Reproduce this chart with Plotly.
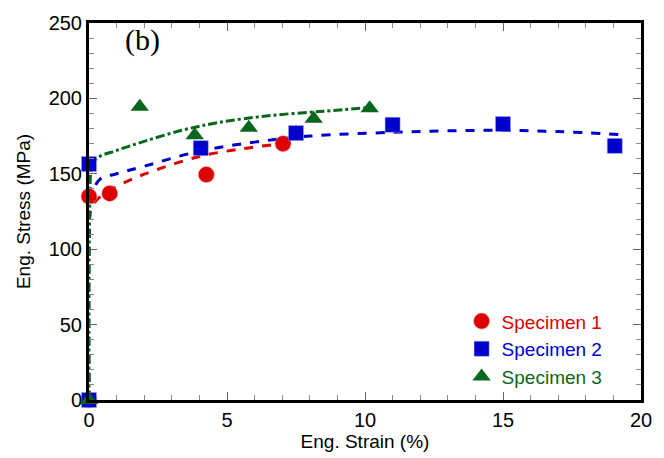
import plotly.graph_objects as go

# Data points
s1_x = [0, 0, 0.75, 4.25, 7.03]
s1_y = [0, 135, 137, 149.5, 170]
s2_x = [0, 0, 4.05, 7.5, 11.0, 15.0, 19.05]
s2_y = [0, 156.5, 167, 177, 182.5, 183, 168.5]
s3_x = [0, 1.84, 3.83, 5.79, 8.14, 10.17]
s3_y = [0, 194.5, 175.5, 180.5, 186.5, 193.5]

# Fit curves
f1_x = [0, 0.03, 0.1, 0.3, 0.75, 1.5, 2.5, 4.0, 5.5, 7.0]
f1_y = [0, 122, 128, 133, 139, 146, 153, 161.5, 166.5, 170]
f2_x = [0, 0.03, 0.1, 0.4, 1.0, 2.0, 4.0, 6.0, 8.0, 11.0, 13.0, 15.0, 17.0, 19.3]
f2_y = [0, 125, 136, 146.5, 150, 155, 165, 171, 175, 177.5, 178.5, 178.8, 178, 176]
f3_x = [0, 0.03, 0.1, 0.3, 1.0, 2.0, 3.4, 4.7, 6.5, 8.5, 10.1]
f3_y = [0, 130, 154, 160.5, 165.5, 171.5, 179, 184, 188.5, 191.5, 193.8]

RED = "#dd0000"
BLUE = "#0000cc"
GREEN = "#0a661c"
FONT = "Arial, Liberation Sans, sans-serif"

fig = go.Figure()
fig.add_trace(go.Scatter(x=f1_x, y=f1_y, mode="lines", line=dict(color=RED, width=3, dash="dash", shape="spline"),
                         showlegend=False, hoverinfo="skip"))
fig.add_trace(go.Scatter(x=f2_x, y=f2_y, mode="lines", line=dict(color=BLUE, width=3, dash="dash", shape="spline"),
                         showlegend=False, hoverinfo="skip"))
fig.add_trace(go.Scatter(x=f3_x, y=f3_y, mode="lines", line=dict(color=GREEN, width=3, dash="dashdot", shape="spline"),
                         showlegend=False, hoverinfo="skip"))

fig.add_trace(go.Scatter(x=s1_x, y=s1_y, mode="markers", cliponaxis=False,
                         marker=dict(symbol="circle", size=16, color=RED, line=dict(width=0.5, color="#f0a0a0")),
                         name=f"<span style='color:{RED}'>Specimen 1</span>"))
fig.add_trace(go.Scatter(x=s2_x, y=s2_y, mode="markers", cliponaxis=False,
                         marker=dict(symbol="square", size=15, color=BLUE, line=dict(width=0.5, color="#a0a0f0")),
                         name=f"<span style='color:{BLUE}'>Specimen 2</span>"))
fig.add_trace(go.Scatter(x=s3_x, y=s3_y, mode="markers", cliponaxis=False,
                         marker=dict(symbol="triangle-up", size=16, color=GREEN, line=dict(width=0)),
                         name=f"<span style='color:{GREEN}'>Specimen 3</span>"))

axis_common = dict(showline=True, linewidth=3, linecolor="black", mirror="allticks",
                   ticks="inside", ticklen=8, tickwidth=1, tickcolor="#666",
                   showgrid=False, zeroline=False,
                   tickfont=dict(family=FONT, size=20, color="black"))

fig.update_xaxes(range=[0, 20], dtick=5, tick0=0,
                 minor=dict(dtick=1, ticks="inside", ticklen=5, tickcolor="#888", showgrid=False),
                 title=dict(text="Eng. Strain (%)", font=dict(family=FONT, size=19, color="black"), standoff=2),
                 **axis_common)
fig.update_yaxes(range=[0, 250], dtick=50, tick0=0,
                 minor=dict(dtick=10, ticks="inside", ticklen=5, tickcolor="#888", showgrid=False),
                 title=dict(text="Eng. Stress (MPa)", font=dict(family=FONT, size=19, color="black"), standoff=13),
                 **axis_common)

fig.add_annotation(text="(b)", x=0.097, y=1.005, xref="paper", yref="paper", showarrow=False,
                   xanchor="center", yanchor="top",
                   font=dict(family="Liberation Serif, Times New Roman, serif", size=30, color="black"))

fig.update_layout(
    width=664, height=458,
    margin=dict(l=89, r=22, t=16, b=56),
    plot_bgcolor="white", paper_bgcolor="white",
    legend=dict(x=0.675, y=0.01, xanchor="left", yanchor="bottom", bgcolor="rgba(0,0,0,0)",
                font=dict(family=FONT, size=19), itemsizing="trace", tracegroupgap=0),
)

fig.write_html("out.html")
